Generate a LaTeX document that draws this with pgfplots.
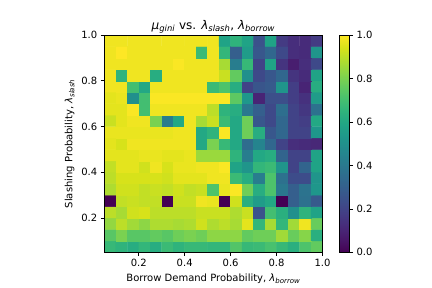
\documentclass[border=0pt]{standalone}
\usepackage{pgfplots}
\usepackage{fontspec}
\setmainfont{DejaVu Sans}
\pgfplotsset{compat=1.18}
\newcommand\ms[2]{\textit{#1}\textsubscript{\textit{#2}}}
\begin{document}
\begin{tikzpicture}[x=1bp,y=1bp]
\path[use as bounding box] (0,0) rectangle (432,288);
\begin{axis}[
  at={(104.3bp,35.7bp)}, anchor=south west,
  scale only axis, width=218.2bp, height=217.3bp,
  xmin=0.05, xmax=1, ymin=0.05, ymax=1,
  xtick={0.2,0.4,0.6,0.8,1.0}, ytick={0.2,0.4,0.6,0.8,1.0},
  xticklabel style={/pgf/number format/fixed,/pgf/number format/precision=1,/pgf/number format/fixed zerofill},
  yticklabel style={/pgf/number format/fixed,/pgf/number format/precision=1,/pgf/number format/fixed zerofill},
  /pgf/number format/assume math mode=true,
  tick align=outside, tick pos=left, major tick length=3.5bp,
  every tick/.style={black,line width=0.6pt},
  axis line style={line width=0.6pt},
  axis on top,
  ticklabel style={font=\fontsize{10bp}{12bp}\selectfont},
  label style={font=\fontsize{10bp}{12bp}\selectfont},
  title style={font=\fontsize{12bp}{14bp}\selectfont, yshift=-8bp},
  title={\ms{μ}{gini} vs. \ms{λ}{slash}, \ms{λ}{borrow}},
  xlabel={Borrow Demand Probability, \ms{λ}{borrow}},
  ylabel={Slashing Probability, \ms{λ}{slash}},
  colormap name=viridis,
  point meta min=0, point meta max=1,
  colorbar,
  colorbar style={at={(1.076,0)},anchor=south west,
    width=10.5bp, height=217.3bp, scale only axis,
    ytick={0,0.2,0.4,0.6,0.8,1.0},
    major tick length=3.5bp, ymin=0, ymax=1,
    tick pos=right, tick align=outside,
    yticklabel pos=right,
    /pgf/number format/assume math mode=true,
    yticklabel style={/pgf/number format/fixed,/pgf/number format/precision=1,/pgf/number format/fixed zerofill},
  },
]
\addplot[matrix plot*, mesh/cols=19, mesh/ordering=x varies, point meta=explicit]
 table[row sep=crcr, x expr={0.075+0.05*(\coordindex-19*floor((\coordindex+0.5)/19))}, y expr={0.075+0.05*floor((\coordindex+0.5)/19)}, meta=z] {
z\\
.67\\ .65\\ .62\\ .66\\ .62\\ .68\\ .65\\ .67\\ .67\\ .66\\ .66\\ .73\\ .67\\ .68\\ .71\\ .67\\ .63\\ .72\\ .76\\ 
.74\\ .80\\ .74\\ .74\\ .76\\ .74\\ .78\\ .80\\ .78\\ .83\\ .83\\ .83\\ .76\\ .78\\ .78\\ .86\\ .77\\ .82\\ .63\\ 
.84\\ .90\\ .86\\ .83\\ .88\\ .88\\ .87\\ .88\\ .93\\ .88\\ .90\\ .87\\ .96\\ .66\\ .87\\ .66\\ .86\\ .98\\ .77\\ 
.90\\ .87\\ .93\\ .94\\ .90\\ .90\\ .90\\ .90\\ .92\\ .92\\ .92\\ .88\\ .92\\ .25\\ .70\\ .63\\ .50\\ .65\\ .58\\ 
.00\\ .91\\ .92\\ .91\\ .91\\ .00\\ .92\\ .92\\ .98\\ .97\\ .00\\ .93\\ .63\\ .55\\ .60\\ .00\\ .30\\ .37\\ .28\\ 
.88\\ .93\\ .93\\ .91\\ .92\\ .91\\ .93\\ .91\\ .92\\ .72\\ .97\\ .995\\ .78\\ .62\\ .72\\ .40\\ .30\\ .38\\ .53\\ 
.90\\ .94\\ .94\\ .94\\ .94\\ .93\\ .96\\ .96\\ .96\\ .98\\ .98\\ .68\\ .62\\ .42\\ .72\\ .37\\ .23\\ .23\\ .52\\ 
.91\\ .96\\ .96\\ .93\\ .98\\ .94\\ .97\\ .97\\ .98\\ .98\\ .995\\ .58\\ .52\\ .66\\ .68\\ .52\\ .20\\ .32\\ .58\\ 
.96\\ .96\\ .96\\ .97\\ .97\\ .96\\ .96\\ .97\\ .85\\ .85\\ .85\\ .65\\ .42\\ .60\\ .62\\ .32\\ .20\\ .20\\ .58\\ 
.96\\ .94\\ .98\\ .98\\ .98\\ .98\\ .98\\ .98\\ .60\\ .80\\ .67\\ .60\\ .35\\ .45\\ .33\\ .20\\ .13\\ .12\\ .11\\ 
.97\\ .97\\ .97\\ .97\\ .97\\ .97\\ .98\\ .98\\ .60\\ .65\\ .995\\ .60\\ .78\\ .62\\ .27\\ .33\\ .20\\ .20\\ .53\\ 
.92\\ .96\\ .98\\ .98\\ .80\\ .42\\ .60\\ .98\\ .87\\ .92\\ .68\\ .60\\ .78\\ .27\\ .22\\ .33\\ .20\\ .18\\ .60\\ 
.96\\ .96\\ .995\\ .70\\ .98\\ .98\\ .98\\ .98\\ .98\\ .90\\ .65\\ .62\\ .40\\ .30\\ .22\\ .36\\ .20\\ .16\\ .37\\ 
.96\\ .97\\ .50\\ .70\\ .995\\ .995\\ .995\\ .995\\ .995\\ .995\\ .995\\ .75\\ .53\\ .10\\ .24\\ .24\\ .18\\ .14\\ .55\\ 
.98\\ .98\\ .70\\ .60\\ .98\\ .98\\ .98\\ .98\\ .98\\ .68\\ .72\\ .62\\ .20\\ .26\\ .28\\ .52\\ .18\\ .10\\ .62\\ 
.98\\ .65\\ .98\\ .98\\ .62\\ .98\\ .98\\ .98\\ .98\\ .98\\ .92\\ .76\\ .50\\ .22\\ .27\\ .33\\ .15\\ .12\\ .58\\ 
.98\\ .98\\ .98\\ .98\\ .98\\ .98\\ .995\\ .98\\ .98\\ .98\\ .87\\ .42\\ .67\\ .20\\ .58\\ .15\\ .08\\ .13\\ .22\\ 
.98\\ 1.0\\ .98\\ .98\\ .98\\ .98\\ .98\\ .98\\ .68\\ .98\\ .66\\ .30\\ .55\\ .27\\ .33\\ .22\\ .13\\ .12\\ .52\\ 
.98\\ .98\\ .98\\ .98\\ .98\\ .98\\ .98\\ .98\\ .98\\ .98\\ .58\\ .65\\ .58\\ .25\\ .58\\ .17\\ .13\\ .12\\ .17\\ 
};
\end{axis}
\end{tikzpicture}
\end{document}
